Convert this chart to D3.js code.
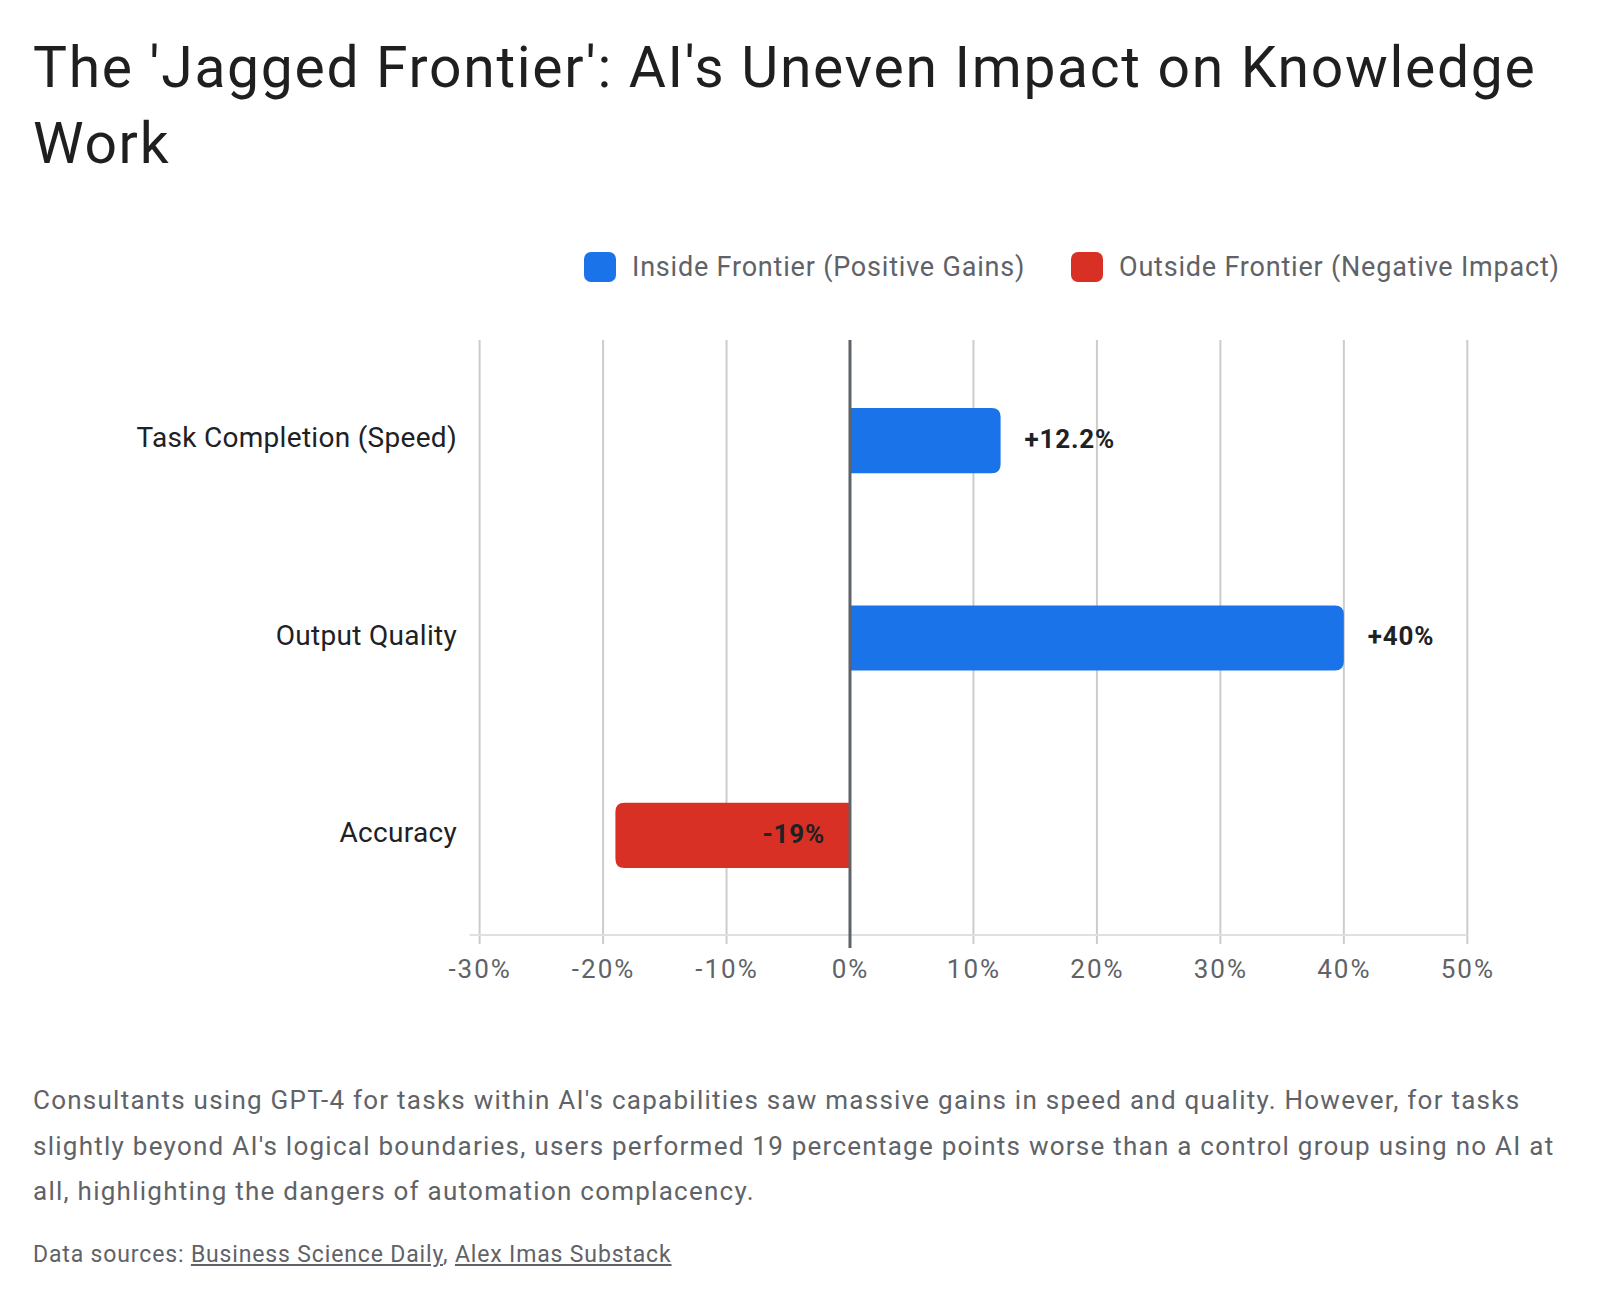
<!DOCTYPE html>
<html>
<head>
<meta charset="utf-8">
<script src="https://cdn.jsdelivr.net/npm/d3@7"></script>
<style>
  body { margin: 0; background: #fff; font-family: Roboto, "Noto Sans", sans-serif; }
  #wrap { position: relative; width: 1600px; height: 1302px; }
  #title { position: absolute; left: 33px; top: 30px; width: 1560px; margin: 0;
           font-size: 57px; line-height: 76px; font-weight: 400; color: #1f1f1f; letter-spacing: 1.7px; }
  #chart { position: absolute; left: 0; top: 0; }
  #caption { position: absolute; left: 33px; top: 1078px; width: 1550px; margin: 0;
             font-size: 26px; line-height: 45.5px; color: #5f6368; letter-spacing: 1.25px; }
  #sources { position: absolute; left: 33px; top: 1241px; margin: 0; font-size: 23px; color: #5f6368; letter-spacing: 0.85px; }
  #sources a { color: #5f6368; text-decoration: underline; }
</style>
</head>
<body>
<div id="wrap">
  <h1 id="title">The 'Jagged Frontier': AI's Uneven Impact on Knowledge Work</h1>
  <div id="chart"></div>
  <p id="caption">Consultants using GPT-4 for tasks within AI's capabilities saw massive gains in speed and quality. However, for tasks slightly beyond AI's logical boundaries, users performed 19 percentage points worse than a control group using no AI at all, highlighting the dangers of automation complacency.</p>
  <p id="sources">Data sources: <a href="#">Business Science Daily</a>, <a href="#">Alex Imas Substack</a></p>
</div>
<script>
var categories = ['Task Completion (Speed)', 'Output Quality', 'Accuracy'];
var values = [0.122, 0.40, -0.19];
var valueLabels = ['+12.2%', '+40%', '-19%'];
var seriesNames = ['Inside Frontier (Positive Gains)', 'Outside Frontier (Negative Impact)'];
var seriesColors = ['#1a73e8', '#d93025'];
var tickValues = [-0.3, -0.2, -0.1, 0, 0.1, 0.2, 0.3, 0.4, 0.5];

var width = 1600, height = 1302;
var plotTop = 342, plotBottom = 934;

var svg = d3.select('#chart').append('svg')
    .attr('width', width)
    .attr('height', height);

var x = d3.scaleLinear()
    .domain([-0.3, 0.5])
    .range([479.6, 1467.3]);

var y = d3.scaleBand()
    .domain(categories)
    .range([plotTop, plotBottom])
    .paddingInner(0.67)
    .paddingOuter(0.335);

// legend
var legend = svg.append('g').attr('class', 'legend');
var legendX = [584, 1071];
seriesNames.forEach(function(name, i) {
  legend.append('rect')
      .attr('x', legendX[i]).attr('y', 252)
      .attr('width', 32).attr('height', 30)
      .attr('rx', 7)
      .attr('fill', seriesColors[i]);
  legend.append('text')
      .attr('x', legendX[i] + 48).attr('y', 267)
      .attr('dy', '0.35em')
      .attr('font-size', 27)
      .attr('letter-spacing', 0.8)
      .attr('fill', '#5f6368')
      .text(name);
});

// gridlines
svg.append('g').selectAll('line.grid')
    .data(tickValues.filter(function(d){ return d !== 0; }))
    .enter().append('line')
    .attr('class', 'grid')
    .attr('x1', function(d){ return x(d); })
    .attr('x2', function(d){ return x(d); })
    .attr('y1', 340).attr('y2', 944)
    .attr('stroke', '#cccccc')
    .attr('stroke-width', 2);

// baseline
svg.append('line')
    .attr('x1', x(-0.3) - 10).attr('x2', x(0.5))
    .attr('y1', plotBottom + 1).attr('y2', plotBottom + 1)
    .attr('stroke', '#e0e0e0')
    .attr('stroke-width', 2);

// x axis labels
var fmt = function(d) { return Math.round(d * 100) + '%'; };
var axis = svg.append('g')
    .attr('transform', 'translate(0,' + (plotBottom + 10) + ')')
    .call(d3.axisBottom(x).tickValues(tickValues).tickFormat(fmt).tickSize(0).tickPadding(16));
axis.select('.domain').remove();
axis.selectAll('text')
    .attr('font-family', 'Roboto, sans-serif')
    .attr('font-size', 26)
    .attr('letter-spacing', 2)
    .attr('fill', '#5f6368');

// bars
var r = 9;
function barPath(d) {
  var y0 = y(d.cat), h = y.bandwidth();
  var x0 = x(0), x1 = x(d.v);
  var s = d.v >= 0 ? -r : r;
  return 'M' + x0 + ',' + y0 + 'H' + (x1 + s) + 'Q' + x1 + ',' + y0 + ' ' + x1 + ',' + (y0 + r) +
    'V' + (y0 + h - r) + 'Q' + x1 + ',' + (y0 + h) + ' ' + (x1 + s) + ',' + (y0 + h) + 'H' + x0 + 'Z';
}

var rows = categories.map(function(c, i) { return { cat: c, v: values[i], label: valueLabels[i] }; });

svg.append('g').selectAll('path.bar')
    .data(rows)
    .enter().append('path')
    .attr('class', 'bar')
    .attr('d', barPath)
    .attr('fill', function(d){ return d.v >= 0 ? seriesColors[0] : seriesColors[1]; });

// zero line
svg.append('line')
    .attr('x1', x(0)).attr('x2', x(0))
    .attr('y1', 340).attr('y2', 948)
    .attr('stroke', '#5f6368')
    .attr('stroke-width', 3);

// value labels
svg.append('g').selectAll('text.val')
    .data(rows)
    .enter().append('text')
    .attr('class', 'val')
    .attr('x', function(d){ return d.v >= 0 ? x(d.v) + 24 : x(0) - 25; })
    .attr('y', function(d){ return y(d.cat) + y.bandwidth() / 2; })
    .attr('dy', '0.28em')
    .attr('text-anchor', function(d){ return d.v >= 0 ? 'start' : 'end'; })
    .attr('font-size', 26)
    .attr('letter-spacing', 0.8)
    .attr('font-weight', 700)
    .attr('fill', '#202124')
    .text(function(d){ return d.label; });

// category labels
svg.append('g').selectAll('text.cat')
    .data(categories)
    .enter().append('text')
    .attr('class', 'cat')
    .attr('x', 457)
    .attr('y', function(d){ return y(d) + y.bandwidth() / 2; })
    .attr('dy', '0.24em')
    .attr('text-anchor', 'end')
    .attr('font-size', 28)
    .attr('letter-spacing', 0.3)
    .attr('fill', '#202124')
    .text(function(d){ return d; });
</script>
</body>
</html>
